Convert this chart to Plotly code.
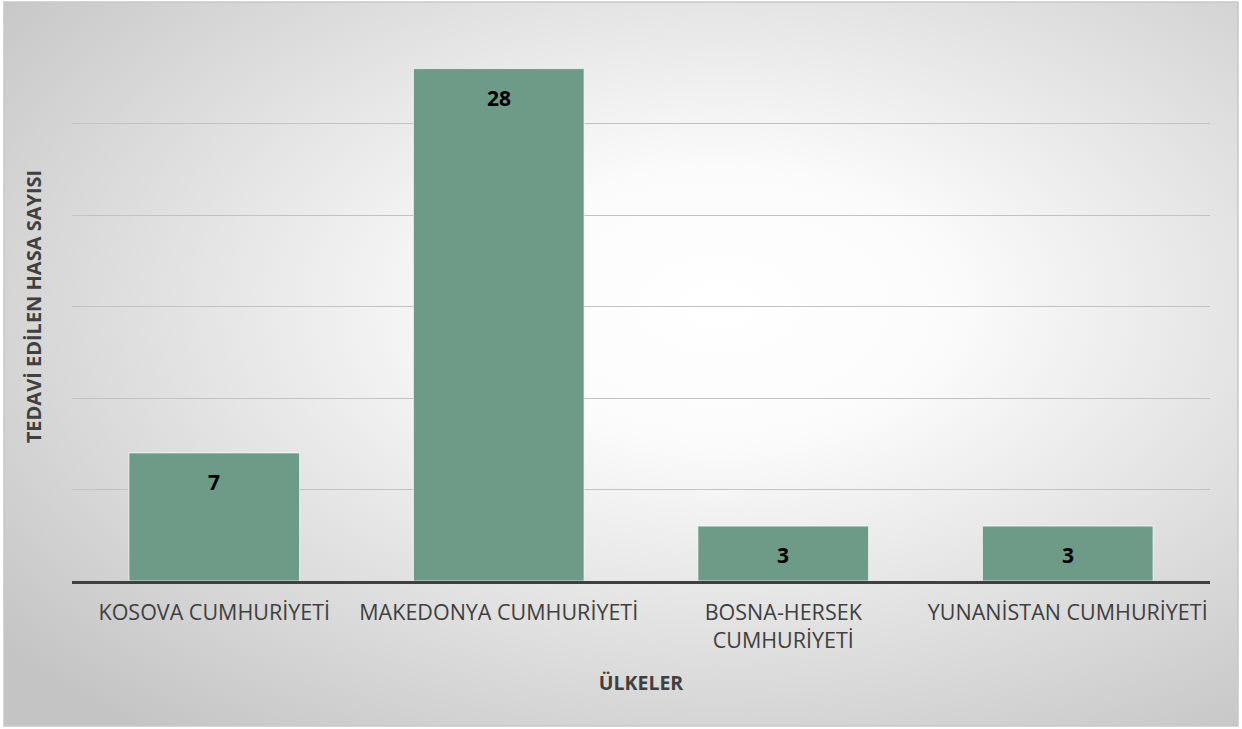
import base64
import plotly.graph_objects as go

categories = ["KOSOVA CUMHURİYETİ", "MAKEDONYA CUMHURİYETİ", "BOSNA-HERSEK<br>CUMHURİYETİ", "YUNANİSTAN CUMHURİYETİ"]
values = [7, 28, 3, 3]
y_title = "TEDAVİ EDİLEN HASA SAYISI"
x_title = "ÜLKELER"

W, H = 1242, 729
L, R, T, B = 72, 32, 32, 148
pw, ph = W - L - R, H - T - B

svg = """<svg xmlns='http://www.w3.org/2000/svg' width='1242' height='729' viewBox='0 0 1242 729' preserveAspectRatio='none'>
<defs><radialGradient id='g' cx='0.58' cy='0.42' r='0.75' gradientUnits='objectBoundingBox'>
<stop offset='0' stop-color='#ffffff'/><stop offset='0.25' stop-color='#fbfbfb'/><stop offset='1' stop-color='#c4c4c4'/></radialGradient></defs>
<rect x='0' y='0' width='1242' height='729' fill='url(#g)'/></svg>"""
src = "data:image/svg+xml;base64," + base64.b64encode(svg.encode()).decode()

fig = go.Figure()
fig.add_trace(go.Bar(
    x=categories, y=values,
    marker=dict(color="#6e9b88", line=dict(color="rgba(255,255,255,0.7)", width=1)),
    hoverinfo="skip",
))

for c, v in zip(categories, values):
    fig.add_annotation(x=c, y=v, xref="x", yref="y", text=f"<b>{v}</b>", showarrow=False,
                       yanchor="top", yshift=-13, font=dict(family="Open Sans", size=21, color="#000000"))

# background box in paper coords
x0 = (4 - L) / pw
x1 = (1238 - L) / pw
y1 = 1 + (T - 2) / ph
y0 = -(B - 3) / ph
fig.add_layout_image(dict(source=src, xref="paper", yref="paper", x=x0, y=y1,
                          sizex=x1 - x0, sizey=y1 - y0, sizing="stretch", layer="below", opacity=1))
fig.add_shape(type="rect", xref="paper", yref="paper", x0=x0, x1=x1, y0=y0, y1=y1,
              line=dict(color="#c8c8c8", width=1.5), fillcolor="rgba(0,0,0,0)", layer="below")

fig.update_layout(
    width=W, height=H,
    margin=dict(l=L, r=R, t=T, b=B),
    paper_bgcolor="#ffffff", plot_bgcolor="rgba(0,0,0,0)",
    bargap=0.4, showlegend=False,
    font=dict(family="Open Sans", color="#404040", size=21.5),
    xaxis=dict(showgrid=False, showline=True, linecolor="#404040", linewidth=3,
               ticks="", tickfont=dict(size=21.5, color="#404040"), ticklabelstandoff=10,
               title=dict(text=f"<b>{x_title}</b>", font=dict(size=19.5, color="#404040"), standoff=24)),
    yaxis=dict(range=[0, 30], dtick=5, showgrid=True, gridcolor="#c2c2c2", gridwidth=1,
               showticklabels=False, zeroline=False, showline=False,
               title=dict(text=f"<b>{y_title}</b>", font=dict(size=20, color="#404040"), standoff=24)),
)
fig.write_html("out.html", config={"displayModeBar": False},
               post_script="document.body.style.margin='0';document.body.style.overflow='hidden';")
